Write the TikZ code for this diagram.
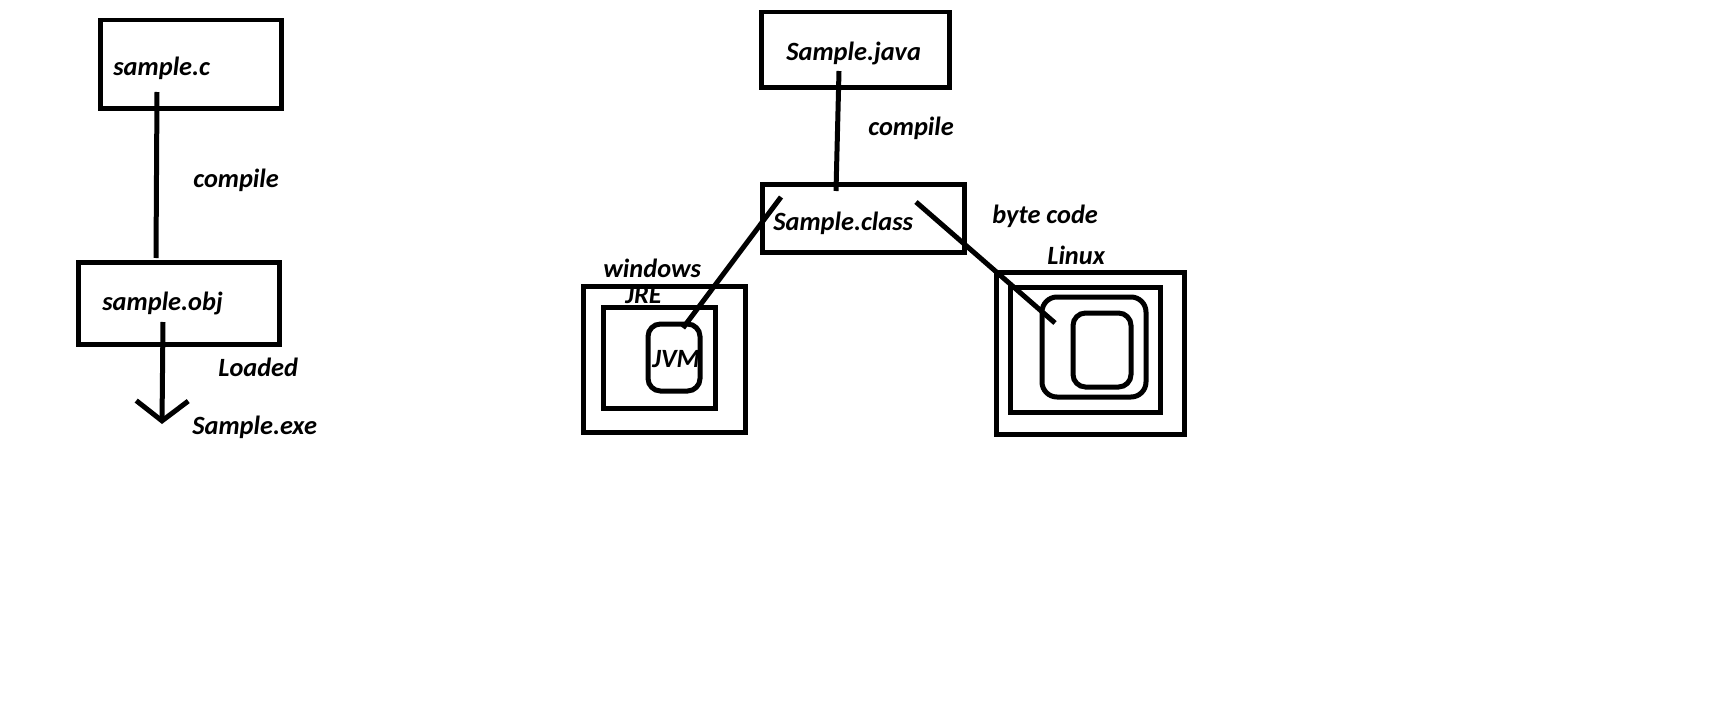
\documentclass[tikz,border=0pt]{standalone}
\usepackage{fontspec}
\setmainfont{Carlito}
\usetikzlibrary{arrows.meta}

\begin{document}
\begin{tikzpicture}[x=0.02cm, y=-0.02cm,
    frame/.style={draw, line width=0.1cm, inner sep=0pt},
    rframe/.style={frame, rounded corners=0.25cm},
    word/.style={font=\fontsize{15}{18}\selectfont\bfseries\itshape, inner sep=0pt, anchor=base west},
    wire/.style={line width=0.1cm}]
    \def\px{0.02cm}
    \useasboundingbox (0,0) rectangle (1732,720);

    % C side
    \node[frame, minimum width=181*\px, minimum height=88*\px] (srcC) at (190.5,64) {};
    \node[frame, minimum width=201*\px, minimum height=82*\px] (objC) at (178.5,303) {};
    \node[word] (srcCText) at (113,75) {sample.c};
    \node[word] (objCText) at (102,310) {sample.obj};
    \node[word] (compileC) at (193,187) {compile};
    \node[word] (loaded) at (218,376) {Loaded};
    \node[word] (exeText) at (192,434) {Sample.exe};

    \coordinate (cOut) at (157,92);
    \coordinate (cIn) at (156,258);
    \coordinate (objOut) at (163,322);
    \coordinate (exeIn) at (162,424);
    \draw[wire] (cOut) -- (cIn);
    \draw[wire, -{Straight Barb[length=0.4cm, width=1.04cm]}] (objOut) -- (exeIn);

    % Java side
    \node[frame, minimum width=188*\px, minimum height=75*\px] (srcJava) at (855,49.5) {};
    \node[frame, minimum width=202*\px, minimum height=68*\px] (classJ) at (863,218) {};
    \node[word] (srcJavaText) at (786,60) {Sample.java};
    \node[word] (classText) at (773,230) {Sample.class};
    \node[word] (compileJ) at (868,135) {compile};
    \node[word] (bytecode) at (992,223) {byte code};

    % Windows
    \node[word] (winText) at (603,277) {windows};
    \node[word] (jreText) at (625,303) {JRE};
    \node[frame, minimum width=162*\px, minimum height=146*\px] (winOS) at (664,359) {};
    \node[frame, minimum width=112*\px, minimum height=101*\px] (winJRE) at (659,357.5) {};
    \node[rframe, minimum width=52*\px, minimum height=67*\px] (winJVM) at (674,357.5) {};
    \node[word] (jvmText) at (652,367) {JVM};

    % Linux
    \node[word] (linText) at (1047,264) {Linux};
    \node[frame, minimum width=188*\px, minimum height=162*\px] (linOS) at (1090,353) {};
    \node[frame, minimum width=150*\px, minimum height=125*\px] (linJRE) at (1085,349.5) {};
    \node[rframe, rounded corners=0.3cm, minimum width=104*\px, minimum height=100*\px] (linJVM) at (1094,347) {};
    \node[rframe, minimum width=58*\px, minimum height=74*\px] (linCore) at (1102,350) {};

    \coordinate (javaOut) at (839,71);
    \coordinate (classIn) at (836,191);
    \coordinate (winOut) at (781,197);
    \coordinate (winIn) at (683,328);
    \coordinate (linOut) at (916,202);
    \coordinate (linIn) at (1055,323);
    \draw[wire] (javaOut) -- (classIn);
    \draw[wire] (winOut) -- (winIn);
    \draw[wire] (linOut) -- (linIn);

\end{tikzpicture}
\end{document}
